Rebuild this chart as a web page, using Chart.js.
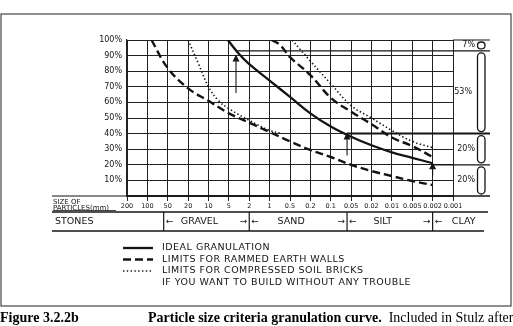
<!DOCTYPE html>
<html>
<head>
<meta charset="utf-8">
<script src="https://cdn.jsdelivr.net/npm/chart.js@4.4.0/dist/chart.umd.min.js"></script>
<style>
  body { margin: 0; background: #fff; }
  canvas { display: block; }
</style>
</head>
<body>
<canvas id="grainChart" width="513" height="326"></canvas>
<script>
// particle sizes (mm) written under the grid, one per vertical line
const sizeLabels = ['200', '100', '50', '20', '10', '5', '2', '1', '0.5', '0.2', '0.1',
                    '0.05', '0.02', '0.01', '0.005', '0.002', '0.001'];

// curves: x = position along the size scale (0 = 200mm ... 16 = 0.001mm), y = % passing
const idealX = [4.95, 5.5, 6, 7, 8, 9, 10, 11, 12, 13, 14, 15];
const idealY = [100, 91, 84.5, 74, 63.5, 53, 44.5, 38, 32.5, 28, 24.5, 21];

const rammedLowX = [1.2, 2, 3, 4, 5, 6, 7, 8, 9, 10, 11, 12, 13, 14, 15];
const rammedLowY = [100, 82, 69, 61, 53, 47, 41, 35, 29.5, 25, 20, 16, 12.8, 9.6, 7];
const rammedHighX = [7.1, 7.5, 8, 9, 10, 11, 12, 13, 14, 15];
const rammedHighY = [100, 97, 89, 77.5, 63, 54, 46, 37.5, 32, 25];

const bricksLowX = [3, 3.5, 4, 4.5, 5, 6, 7, 7.6];
const bricksLowY = [100, 85, 70, 61, 56, 48.5, 42, 40];
const bricksHighX = [8.1, 9, 10, 11, 12, 13, 14, 15];
const bricksHighY = [100, 86.5, 72, 58, 50, 42, 35, 31];

// arrows on the ideal curve
const arrowX = [5.35, 10.8, 15];
const arrowTop = [90, 40, 21];
const arrowBottom = [66, 26, 13];

// bracket on the right
const shareStops = [100, 93, 40, 20, 0];
const shareLabels = ['7%', '53%', '20%', '20%'];

// soil classes under the size scale
const classNames = ['GRAVEL', 'SAND', 'SILT', 'CLAY'];
const classBounds = [1.8, 6, 10.8, 15];

const noteText = 'IF YOU WANT TO BUILD WITHOUT ANY TROUBLE';
const hand = '"DejaVu Sans"';
const ink = '#141414';

function pts(xs, ys) {
  return xs.map((x, i) => ({ x: x, y: ys[i] }));
}

const solid = { borderColor: ink, borderWidth: 2.3, borderDash: [] };
const dashed = { borderColor: ink, borderWidth: 2.4, borderDash: [8, 4] };
const dotted = { borderColor: ink, borderWidth: 1.6, borderDash: [1.4, 2.4] };

const data = {
  datasets: [
    Object.assign({ label: 'IDEAL GRANULATION', data: pts(idealX, idealY) }, solid),
    Object.assign({ label: 'LIMITS FOR RAMMED EARTH WALLS', data: pts(rammedLowX, rammedLowY) }, dashed),
    Object.assign({ label: 'LIMITS FOR RAMMED EARTH WALLS', data: pts(rammedHighX, rammedHighY) }, dashed),
    Object.assign({ label: 'LIMITS FOR COMPRESSED SOIL BRICKS', data: pts(bricksLowX, bricksLowY) }, dotted),
    Object.assign({ label: 'LIMITS FOR COMPRESSED SOIL BRICKS', data: pts(bricksHighX, bricksHighY) }, dotted)
  ]
};

function line(ctx, x1, y1, x2, y2) {
  ctx.beginPath();
  ctx.moveTo(x1, y1);
  ctx.lineTo(x2, y2);
  ctx.stroke();
}

const decor = {
  id: 'decor',
  afterDraw(chart) {
    const ctx = chart.ctx;
    const a = chart.chartArea;
    const x = chart.scales.x;
    const y = chart.scales.y;
    ctx.save();
    ctx.strokeStyle = ink;
    ctx.fillStyle = ink;

    // page frame
    ctx.lineWidth = 1.2;
    ctx.strokeStyle = '#444';
    ctx.strokeRect(1, 14, 510, 292);
    ctx.strokeStyle = ink;

    // base line runs out to the table on the left and the bracket on the right
    const y0 = y.getPixelForValue(0);
    ctx.lineWidth = 1.2;
    line(ctx, 52, y0, 490, y0);

    // size table
    ctx.font = '7px ' + hand;
    ctx.textAlign = 'left';
    ctx.textBaseline = 'alphabetic';
    ctx.fillText('SIZE OF', 53, 203.5);
    ctx.fillText('PARTICLES(mm)', 53, 209.5);
    ctx.lineWidth = 0.8;
    line(ctx, 53, 210.5, 116, 210.5);
    ctx.lineWidth = 1.3;
    line(ctx, 52, 212, 488, 212);
    line(ctx, 52, 231, 484, 231);

    ctx.font = '9.5px ' + hand;
    ctx.textBaseline = 'middle';
    ctx.fillText('STONES', 55, 222);
    const sepX = classBounds.map(v => x.getPixelForValue(v));
    const ends = sepX.slice(1).concat([486]);
    sepX.forEach((sx, i) => {
      ctx.lineWidth = 1.2;
      line(ctx, sx, 212, sx, 231);
      ctx.font = '9px ' + hand;
      ctx.textAlign = 'left';
      ctx.fillText('\u2190', sx + 2, 222);
      if (i < sepX.length - 1) {
        ctx.textAlign = 'right';
        ctx.fillText('\u2192', ends[i] - 2, 222);
      }
      ctx.font = '9.5px ' + hand;
      ctx.textAlign = 'center';
      const mid = i < sepX.length - 1 ? (sx + ends[i]) / 2 - 7 : sx + 31;
      ctx.fillText(classNames[i], mid, 222);
    });

    // arrows on the curves
    ctx.lineWidth = 1.1;
    arrowX.forEach((v, i) => {
      const px = x.getPixelForValue(v);
      const pt = y.getPixelForValue(arrowTop[i]);
      const pb = y.getPixelForValue(arrowBottom[i]);
      line(ctx, px, pt + 3, px, pb);
      ctx.beginPath();
      ctx.moveTo(px, pt - 1);
      ctx.lineTo(px - 3.5, pt + 6);
      ctx.lineTo(px + 3.5, pt + 6);
      ctx.closePath();
      ctx.fill();
    });

    // share bracket on the right
    const stopStart = [a.right, x.getPixelForValue(arrowX[0]), x.getPixelForValue(arrowX[1]),
                       x.getPixelForValue(arrowX[2]), a.right];
    shareStops.forEach((s, i) => {
      const py = y.getPixelForValue(s);
      ctx.lineWidth = s === 40 ? 2 : 1.2;
      line(ctx, stopStart[i], py, 490, py);
    });
    ctx.font = '8px ' + hand;
    ctx.textAlign = 'right';
    ctx.textBaseline = 'middle';
    ctx.lineWidth = 1.3;
    shareLabels.forEach((lab, i) => {
      const t = y.getPixelForValue(shareStops[i]);
      const b = y.getPixelForValue(shareStops[i + 1]);
      ctx.beginPath();
      ctx.roundRect(477.5, t + 2, 7.5, b - t - 4, 4);
      ctx.stroke();
      ctx.fillText(lab, i === 1 ? 472 : 475, i === 0 ? t + 5 : (t + b) / 2);
    });

    // legend, drawn by hand from the datasets
    const seen = [];
    chart.data.datasets.forEach(ds => {
      if (!seen.find(s => s.label === ds.label)) seen.push(ds);
    });
    ctx.textAlign = 'left';
    ctx.textBaseline = 'middle';
    ctx.font = '9.5px ' + hand;
    ctx.letterSpacing = '0.5px';
    seen.forEach((ds, i) => {
      const ly = 248 + i * 11.5;
      ctx.setLineDash(ds.borderDash);
      ctx.lineWidth = ds.borderWidth;
      line(ctx, 123, ly, 153, ly);
      ctx.setLineDash([]);
      ctx.fillText(ds.label, 162, ly);
    });
    ctx.fillText(noteText, 162, 248 + seen.length * 11.5);
    ctx.letterSpacing = '0px';

    // caption
    ctx.fillStyle = '#000';
    ctx.textBaseline = 'alphabetic';
    ctx.font = 'bold 14px "Liberation Serif"';
    ctx.fillText('Figure 3.2.2b', 0, 322);
    const cap = 'Particle size criteria granulation curve.';
    ctx.fillText(cap, 148, 322);
    const w = ctx.measureText(cap).width;
    ctx.font = '14px "Liberation Serif"';
    ctx.fillText('  Included in Stulz after', 148 + w, 322);
    ctx.restore();
  }
};

new Chart(document.getElementById('grainChart'), {
  type: 'line',
  data: data,
  plugins: [decor],
  options: {
    responsive: false,
    animation: false,
    devicePixelRatio: 1,
    layout: { padding: { left: 0, top: 40, right: 60, bottom: 108 } },
    elements: {
      point: { radius: 0 },
      line: { tension: 0.4, borderCapStyle: 'butt' }
    },
    plugins: {
      legend: { display: false },
      tooltip: { enabled: false }
    },
    scales: {
      x: {
        type: 'linear',
        min: 0,
        max: 16,
        afterFit: s => { s.height = 22; },
        ticks: {
          stepSize: 1,
          autoSkip: false,
          maxRotation: 0,
          padding: 1,
          color: ink,
          font: { family: 'DejaVu Sans', size: 6.5 },
          callback: v => sizeLabels[v]
        },
        grid: { color: '#222', lineWidth: 1, tickLength: 5 },
        border: { color: '#222', width: 1.2 }
      },
      y: {
        min: 0,
        max: 100,
        afterFit: s => { s.width = 127; },
        ticks: {
          stepSize: 10,
          padding: 5,
          color: ink,
          font: { family: 'DejaVu Sans', size: 8 },
          callback: v => (v === 0 ? '' : v + '%')
        },
        grid: { color: '#222', lineWidth: 1, drawTicks: false },
        border: { color: '#222', width: 1.2 }
      }
    }
  }
});
</script>
</body>
</html>
